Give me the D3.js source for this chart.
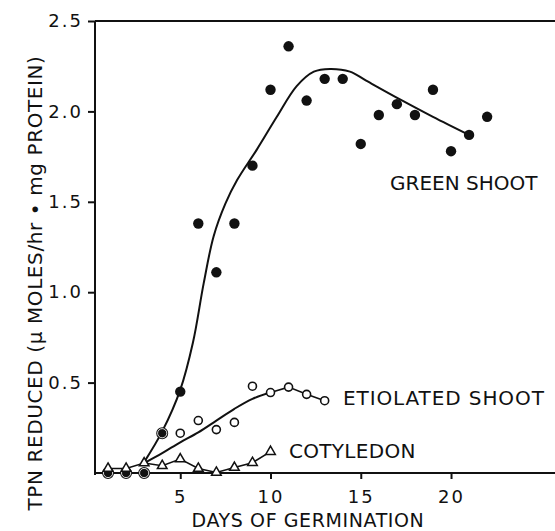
<!DOCTYPE html>
<html>
<head>
<meta charset="utf-8">
<script src="https://cdn.jsdelivr.net/npm/d3@7"></script>
<style>
  body { margin: 0; background: #fff; }
  text { font-family: "DejaVu Sans", sans-serif; fill: #111; }
</style>
</head>
<body>
<div id="chart"></div>
<script>
// days of germination
let days = [1, 2, 3, 4, 5, 6, 7, 8, 9, 10, 11, 12, 13, 14, 15, 16, 17, 18, 19, 20, 21, 22];
let greenShoot = [0, 0, 0, 0.22, 0.45, 1.38, 1.11, 1.38, 1.70, 2.12, 2.36, 2.06, 2.18, 2.18, 1.82, 1.98, 2.04, 1.98, 2.12, 1.78, 1.87, 1.97];

let etioDays = [1, 2, 3, 4, 5, 6, 7, 8, 9, 10, 11, 12, 13];
let etiolatedShoot = [0, 0, 0, 0.22, 0.22, 0.29, 0.24, 0.28, 0.48, 0.445, 0.475, 0.435, 0.40];

let cotyDays = [1, 2, 3, 4, 5, 6, 7, 8, 9, 10];
let cotyledon = [0.025, 0.025, 0.055, 0.04, 0.077, 0.025, 0.003, 0.03, 0.057, 0.118];

// hand drawn fit lines
let greenFitDays = [3, 4, 5, 5.7, 6.3, 6.85, 7.5, 8.15, 9.25, 10.35, 11.45, 12.4, 13.3, 14.4, 15.3, 17.2, 19, 21];
let greenFit = [0.06, 0.23, 0.46, 0.72, 1.05, 1.31, 1.49, 1.62, 1.79, 1.97, 2.14, 2.22, 2.235, 2.22, 2.17, 2.065, 1.97, 1.87];
let etioFitDays = [3, 4, 5, 6, 7, 8, 9, 10];
let etioFit = [0.055, 0.11, 0.17, 0.225, 0.29, 0.355, 0.41, 0.445];

let xTicks = [5, 10, 15, 20];
let yTicks = [0.5, 1.0, 1.5, 2.0, 2.5];

let width = 555,
    height = 531;

let x = d3.scaleLinear().domain([0, 25.76]).range([90, 555]);
let y = d3.scaleLinear().domain([0, 2.5]).range([473, 21]);
let yAxisX = 95;

let svg = d3.select("#chart")
      .append("svg")
      .attr("width", width)
      .attr("height", height);

// axes
let xAxis = svg.append("g")
      .attr("transform", "translate(0," + y(0) + ")")
      .call(d3.axisBottom(x).tickValues(xTicks).tickSize(6).tickSizeOuter(0).tickPadding(11)
        .tickFormat(d3.format("d")));
xAxis.select(".domain").attr("d", "M" + yAxisX + ",0H" + width);

let yAxis = svg.append("g")
      .attr("transform", "translate(" + yAxisX + ",0)")
      .call(d3.axisLeft(y).tickValues(yTicks).tickSize(7).tickSizeOuter(0).tickPadding(5)
        .tickFormat(d3.format(".1f")));
yAxis.select(".domain").attr("d", "M0," + (y(0) + 2) + "V" + y(2.5));

svg.selectAll(".domain, .tick line").attr("stroke", "#111").attr("stroke-width", 2);
svg.selectAll(".tick text")
    .style("font-family", "DejaVu Sans")
    .style("font-size", "18px")
    .style("letter-spacing", "2px")
    .attr("fill", "#111");

// top frame line
svg.append("line")
    .attr("x1", yAxisX).attr("x2", width)
    .attr("y1", y(2.5)).attr("y2", y(2.5))
    .attr("stroke", "#111").attr("stroke-width", 2);

// axis titles
svg.append("text")
    .attr("x", 308).attr("y", 527)
    .attr("text-anchor", "middle")
    .style("font-size", "19px")
    .style("letter-spacing", "0.6px")
    .text("DAYS OF GERMINATION");

svg.append("text")
    .attr("transform", "translate(42,283) rotate(-90)")
    .attr("text-anchor", "middle")
    .style("font-size", "20px")
    .style("letter-spacing", "0.6px")
    .text("TPN REDUCED (\u03bc MOLES/hr \u2022 mg PROTEIN)");

// fit lines
let smooth = d3.line()
      .x(function(d) { return x(d[0]); })
      .y(function(d) { return y(d[1]); })
      .curve(d3.curveCatmullRom.alpha(0.5));
let straight = d3.line()
      .x(function(d) { return x(d[0]); })
      .y(function(d) { return y(d[1]); });

svg.append("path")
    .attr("d", smooth(d3.zip(greenFitDays, greenFit)))
    .attr("fill", "none").attr("stroke", "#111").attr("stroke-width", 2);

svg.append("path")
    .attr("d", smooth(d3.zip(etioFitDays, etioFit)))
    .attr("fill", "none").attr("stroke", "#111").attr("stroke-width", 2);

svg.append("path")
    .attr("d", straight(d3.zip(etioDays, etiolatedShoot).slice(9)))
    .attr("fill", "none").attr("stroke", "#111").attr("stroke-width", 1.6);

svg.append("path")
    .attr("d", straight(d3.zip(cotyDays, cotyledon)))
    .attr("fill", "none").attr("stroke", "#111").attr("stroke-width", 1.6);

// markers
svg.selectAll(".etio")
    .data(d3.zip(etioDays, etiolatedShoot))
    .enter().append("circle")
    .attr("class", "etio")
    .attr("cx", function(d) { return x(d[0]); })
    .attr("cy", function(d) { return y(d[1]); })
    .attr("r", function(d) { return d[0] <= 4 ? 5.2 : 4; })
    .attr("fill", "#fff")
    .attr("stroke", "#111")
    .attr("stroke-width", 1.6);

svg.selectAll(".green")
    .data(d3.zip(days, greenShoot))
    .enter().append("circle")
    .attr("class", "green")
    .attr("cx", function(d) { return x(d[0]); })
    .attr("cy", function(d) { return y(d[1]); })
    .attr("r", function(d) { return d[0] <= 4 ? 4.6 : 5.2; })
    .attr("fill", "#111")
    .attr("stroke", function(d) { return d[0] <= 4 ? "#fff" : "none"; })
    .attr("stroke-width", 0.8);

let tri = d3.symbol().type(d3.symbolTriangle).size(40);
svg.selectAll(".coty")
    .data(d3.zip(cotyDays, cotyledon))
    .enter().append("path")
    .attr("class", "coty")
    .attr("transform", function(d) { return "translate(" + x(d[0]) + "," + y(d[1]) + ")"; })
    .attr("d", tri)
    .attr("fill", "#fff")
    .attr("stroke", "#111")
    .attr("stroke-width", 1.5);

// series labels
svg.append("text")
    .attr("x", 390).attr("y", 190)
    .style("font-size", "20px")
    .text("GREEN SHOOT");

svg.append("text")
    .attr("x", 343).attr("y", 405)
    .style("font-size", "20px")
    .style("letter-spacing", "0.9px")
    .text("ETIOLATED SHOOT");

svg.append("text")
    .attr("x", 289).attr("y", 458)
    .style("font-size", "20px")
    .style("letter-spacing", "0.3px")
    .text("COTYLEDON");
</script>
</body>
</html>
